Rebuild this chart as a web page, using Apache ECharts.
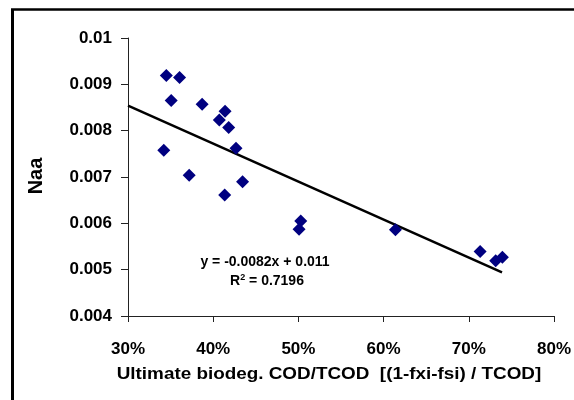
<!DOCTYPE html>
<html>
<head>
<meta charset="utf-8">
<script src="https://cdn.jsdelivr.net/npm/echarts@6/dist/echarts.min.js"></script>
<style>
  html, body { margin: 0; padding: 0; background: #fff; }
  #chart { width: 574px; height: 400px; }
</style>
</head>
<body>
<div id="chart"></div>
<script>
// Ultimate biodegradable COD fraction (x) vs. Naa (y)
const biodegFraction = [0.345, 0.3605, 0.3507, 0.387, 0.4139, 0.4072, 0.4182, 0.4268, 0.342, 0.3718, 0.4345, 0.4135, 0.5028, 0.5008, 0.6139, 0.7133, 0.7316, 0.7394];
const naaValues      = [0.00919, 0.00915, 0.00865, 0.00857, 0.00842, 0.00823, 0.00807, 0.00762, 0.00758, 0.00704, 0.0069, 0.00661, 0.00605, 0.00587, 0.00586, 0.00539, 0.00519, 0.00527];

// Linear trend line as reported: y = -0.0082x + 0.011, R^2 = 0.7196
const trendSlope = -0.0082;
const trendIntercept = 0.011;
const trendRange = [0.30, 0.739];
const rSquared = '0.7196';

const FONT = 'Arial, "Liberation Sans", sans-serif';

const points = biodegFraction.map((x, i) => [x, naaValues[i]]);
const trendPoints = trendRange.map(x => [x, trendSlope * x + trendIntercept]);

const chart = echarts.init(document.getElementById('chart'), null, { renderer: 'canvas' });

chart.setOption({
  animation: false,
  backgroundColor: '#ffffff',
  grid: { left: 128, right: 18, top: 38, bottom: 84, containLabel: false },
  xAxis: {
    type: 'value',
    min: 0.3, max: 0.8, interval: 0.1,
    axisLine: { show: true, lineStyle: { color: '#222', width: 1 } },
    axisTick: { show: true, inside: false, length: 6, lineStyle: { color: '#222' } },
    splitLine: { show: false },
    axisLabel: {
      margin: 25,
      color: '#000',
      fontFamily: FONT, fontWeight: 'bold', fontSize: 17,
      formatter: v => Math.round(v * 100) + '%'
    }
  },
  yAxis: {
    type: 'value',
    min: 0.004, max: 0.01, interval: 0.001,
    axisLine: { show: true, lineStyle: { color: '#222', width: 1 } },
    axisTick: { show: true, inside: false, length: 7, lineStyle: { color: '#222' } },
    splitLine: { show: false },
    axisLabel: {
      margin: 16,
      color: '#000',
      fontFamily: FONT, fontWeight: 'bold', fontSize: 17,
      formatter: v => String(+v.toFixed(3))
    }
  },
  series: [
    {
      type: 'line',
      data: trendPoints,
      symbol: 'none',
      lineStyle: { color: '#000', width: 2.5 },
      z: 2
    },
    {
      type: 'scatter',
      data: points,
      symbol: 'diamond',
      symbolSize: [13, 13],
      itemStyle: { color: '#000080', opacity: 1 },
      z: 3
    }
  ],
  graphic: [
    // outer frame (left and top edges)
    { type: 'line', shape: { x1: 12.5, y1: 9, x2: 12.5, y2: 400 }, style: { stroke: '#000', lineWidth: 3 } },
    { type: 'line', shape: { x1: 11, y1: 9.5, x2: 574, y2: 9.5 }, style: { stroke: '#000', lineWidth: 2.5 } },
    // axis titles
    {
      type: 'text', x: 36, y: 176, rotation: Math.PI / 2,
      style: { text: 'Naa', font: 'bold 20px ' + FONT, fill: '#000', align: 'center', verticalAlign: 'middle' }
    },
    {
      type: 'text', x: 329, y: 374, scaleX: 1.11,
      style: { text: 'Ultimate biodeg. COD/TCOD  [(1-fxi-fsi) / TCOD]', font: 'bold 17px ' + FONT, fill: '#000', align: 'center', verticalAlign: 'middle' }
    },
    // trend line equation
    {
      type: 'text', x: 265, y: 262,
      style: { text: 'y = -0.0082x + 0.011', font: 'bold 14px ' + FONT, fill: '#000', align: 'center', verticalAlign: 'middle' }
    },
    {
      type: 'text', x: 267, y: 281,
      style: {
        text: '{b|R}{s|2}{b| = ' + rSquared + '}',
        align: 'center', verticalAlign: 'middle',
        rich: {
          b: { font: 'bold 14px ' + FONT, fill: '#000', verticalAlign: 'bottom' },
          s: { font: 'bold 9px ' + FONT, fill: '#000', verticalAlign: 'top', padding: [0, 0, 6, 0] }
        }
      }
    }
  ]
});
</script>
</body>
</html>
